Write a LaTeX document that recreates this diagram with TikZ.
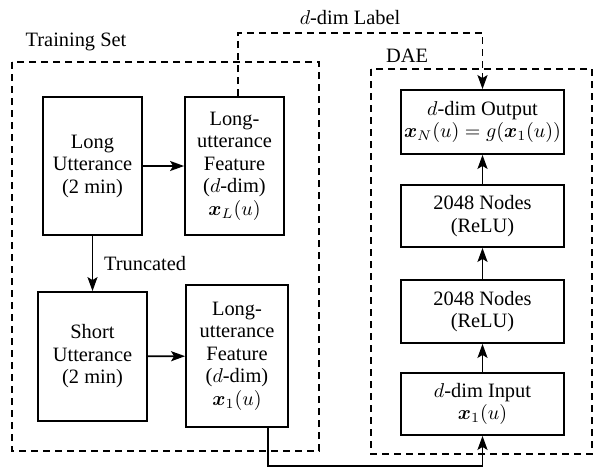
\documentclass[tikz,border=0pt]{standalone}
\usepackage{amsmath}
\usepackage{fontspec}
\setmainfont{Liberation Serif}
\usetikzlibrary{arrows.meta}

\begin{document}
\begin{tikzpicture}[x=0.5pt,y=-0.5pt,
  every node/.style={font=\fontsize{10.2}{11.25}\selectfont},
  box/.style={draw,line width=0.9pt,align=center,inner sep=1pt},
  grp/.style={draw,line width=0.9pt,dash pattern=on 3.5pt off 2.5pt},
  arr/.style={line width=0.9pt,-{Stealth[length=7pt,width=5pt,inset=1.5pt]}}]
\useasboundingbox (0,0) rectangle (593,471);
\draw[grp] (12,62) rectangle (319,451);
\draw[grp] (371,69) rectangle (592,454);
\node (trainlbl) at (76,42) {Training Set};
\node (daelbl) at (407,56) {DAE};
\node (dimlbl) at (350,18) {$d$-dim Label};
\node[box,minimum width=49.5pt,minimum height=69pt] (long) at (92.5,166) {Long\\Utterance\\(2 min)};
\node[box,minimum width=49.5pt,minimum height=69pt] (feat1) at (234.5,166) {Long-\\utterance\\Feature\\($d$-dim)\\$\boldsymbol{x}_L(u)$};
\node[box,minimum width=54.5pt,minimum height=64.5pt] (short) at (92.5,356.5) {Short\\Utterance\\(2 min)};
\node[box,minimum width=51pt,minimum height=71pt] (feat2) at (237,356) {Long-\\utterance\\Feature\\($d$-dim)\\$\boldsymbol{x}_1(u)$};
\node[box,minimum width=81.5pt,minimum height=32pt] (out) at (482.5,122) {$d$-dim Output\\$\boldsymbol{x}_N(u)=g(\boldsymbol{x}_1(u))$};
\node[box,minimum width=81.5pt,minimum height=31pt] (hid2) at (482.5,216) {2048 Nodes\\(ReLU)};
\node[box,minimum width=81.5pt,minimum height=31.5pt] (hid1) at (482.5,311.5) {2048 Nodes\\(ReLU)};
\node[box,minimum width=81.5pt,minimum height=31pt] (inp) at (482.5,404) {$d$-dim Input\\$\boldsymbol{x}_1(u)$};
\draw[arr] (long) -- (feat1);
\draw[arr] (long) -- node[right=2pt] (trunclbl) {Truncated} (short);
\draw[arr] (short) -- (feat2);
\coordinate (c1) at (268,466);
\coordinate (c2) at (482.5,466);
\draw[arr] (feat2.south -| c1) -- (c1) -- (c2) -- (inp);
\draw[arr] (inp) -- (hid1);
\draw[arr] (hid1) -- (hid2);
\draw[arr] (hid2) -- (out);
\coordinate (l1) at (238,33);
\coordinate (l2) at (482.5,33);
\draw[arr,dash pattern=on 3.5pt off 2.5pt] (feat1.north -| l1) -- (l1) -- (l2) -- (out);
\end{tikzpicture}
\end{document}
